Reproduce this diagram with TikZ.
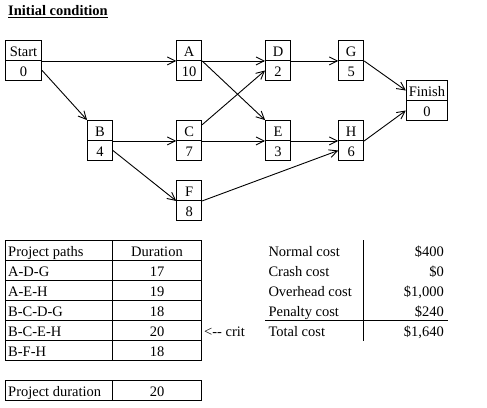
\documentclass[tikz,border=0pt]{standalone}
\usepackage{fontspec}
\setmainfont{Liberation Serif}
\usetikzlibrary{arrows.meta}
\begin{document}
\begin{tikzpicture}[x=1pt,y=-1pt,
  every node/.style={font=\fontsize{14.5}{17}\selectfont},
  cell/.style={draw, line width=0.9pt, inner sep=0pt, minimum width=25pt, minimum height=20pt, text height=12pt, text depth=0pt},
  conn/.style={line width=0.9pt, -{Straight Barb[length=8pt,width=8pt]}},
  lbl/.style={inner sep=0pt, anchor=base west},
  num/.style={inner sep=0pt, anchor=base},
  val/.style={inner sep=0pt, anchor=base east},
  rule/.style={line width=0.9pt}]
\useasboundingbox (0,0) rectangle (487,407);

% title
\node[lbl, font=\bfseries\fontsize{14.5}{17}\selectfont] (title) at (8,15.7) {\underline{Initial condition}};

% activity boxes
\node[cell, minimum width=36.4pt] (Start) at (23.5,50.5) {Start};
\node[cell, minimum width=36.4pt] (Start2) at (23.5,70.5) {0};
\node[cell] (A) at (189.2,50.5) {A};
\node[cell] (A2) at (189.2,70.5) {10};
\node[cell] (B) at (100,130.5) {B};
\node[cell] (B2) at (100,150.5) {4};
\node[cell] (C) at (189.2,130.5) {C};
\node[cell] (C2) at (189.2,150.5) {7};
\node[cell] (F) at (189.2,190.5) {F};
\node[cell] (F2) at (189.2,210.5) {8};
\node[cell] (D) at (278,50.5) {D};
\node[cell] (D2) at (278,70.5) {2};
\node[cell] (E) at (278,130.5) {E};
\node[cell] (E2) at (278,150.5) {3};
\node[cell] (G) at (351.2,50.5) {G};
\node[cell] (G2) at (351.2,70.5) {5};
\node[cell] (H) at (351.2,130.5) {H};
\node[cell] (H2) at (351.2,150.5) {6};
\node[cell, minimum width=41.4pt] (Finish) at (427,90.5) {Finish};
\node[cell, minimum width=41.4pt] (Finish2) at (427,110.5) {0};

% connectors
\draw[conn] (Start.south east) -- (A.south west);
\draw[conn] (Start2.east) -- (B.north west);
\draw[conn] (B.south east) -- (C.south west);
\draw[conn] (B2.east) -- (F.south west);
\draw[conn] (A.south east) -- (D.south west);
\draw[conn] (A.south east) -- (E.north west);
\draw[conn] (C.24) -- (D2.west);
\draw[conn] (C.south east) -- (E.south west);
\draw[conn] (F.south east) -- (H2.west);
\draw[conn] (D.south east) -- (G.south west);
\draw[conn] (E.south east) -- (H.south west);
\draw[conn] (G.south east) -- (Finish.west);
\draw[conn] (H.south east) -- (Finish2.west);

% paths table
\draw[rule] (5.3,240.3) rectangle (201.7,360.3);
\foreach \yy in {260.3,280.3,300.3,320.3,340.3} \draw[rule] (5.3,\yy) -- (201.7,\yy);
\draw[rule] (112.7,240.3) -- (112.7,360.3);
\node[lbl] (ph) at (8,256.3) {Project paths};
\node[num] (dh) at (157,256.3) {Duration};
\node[lbl] (p1) at (8,276.3) {A-D-G};
\node[num] (d1) at (157,276.3) {17};
\node[lbl] (p2) at (8,296.3) {A-E-H};
\node[num] (d2) at (157,296.3) {19};
\node[lbl] (p3) at (8,316.3) {B-C-D-G};
\node[num] (d3) at (157,316.3) {18};
\node[lbl] (p4) at (8,336.3) {B-C-E-H};
\node[num] (d4) at (157,336.3) {20};
\node[lbl] (p5) at (8,356.3) {B-F-H};
\node[num] (d5) at (157,356.3) {18};
\node[lbl] (crit) at (204,336.3) {<-{}- crit};

% project duration
\draw[rule] (5.3,380.3) rectangle (201.7,400.3);
\draw[rule] (112.7,380.3) -- (112.7,400.3);
\node[lbl] (pd) at (8,396.3) {Project duration};
\node[num] (pdv) at (157,396.3) {20};

% cost table
\draw[rule] (363.3,240) -- (363.3,340.7);
\draw[rule] (265,320.3) -- (447.7,320.3);
\node[lbl] (c1) at (268.3,256.3) {Normal cost};
\node[val] (v1) at (444,256.3) {\$400};
\node[lbl] (c2) at (268.3,276.3) {Crash cost};
\node[val] (v2) at (444,276.3) {\$0};
\node[lbl] (c3) at (268.3,296.3) {Overhead cost};
\node[val] (v3) at (444,296.3) {\$1,000};
\node[lbl] (c4) at (268.3,316.3) {Penalty cost};
\node[val] (v4) at (444,316.3) {\$240};
\node[lbl] (c5) at (268.3,336.3) {Total cost};
\node[val] (v5) at (444,336.3) {\$1,640};
\end{tikzpicture}
\end{document}
